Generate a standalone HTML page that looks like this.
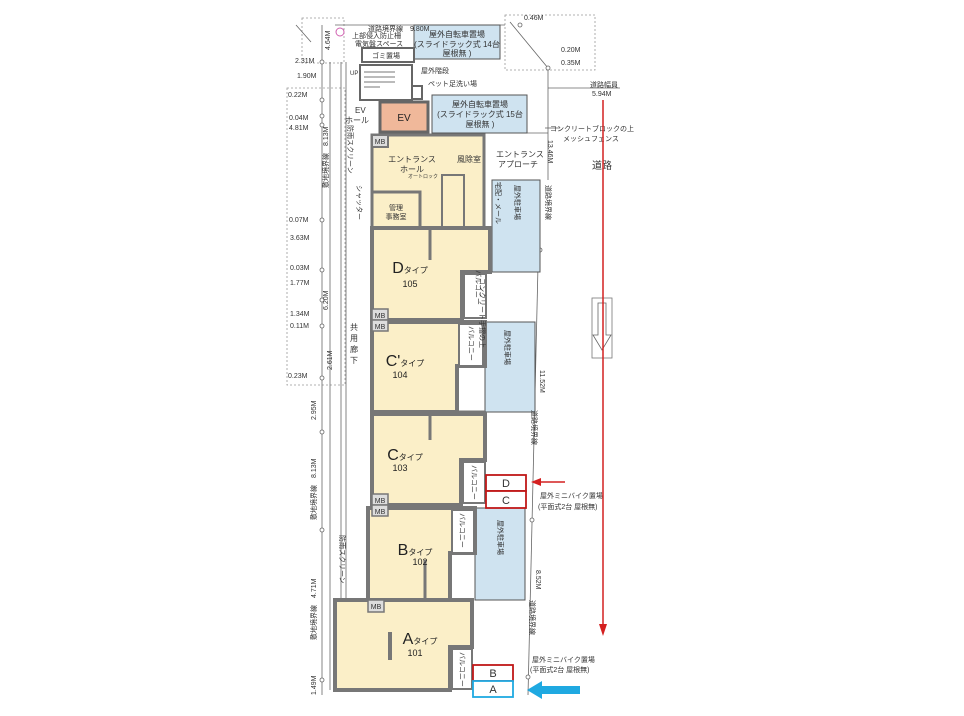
<!DOCTYPE html>
<html><head><meta charset="utf-8"><style>
html,body{margin:0;padding:0;background:#fff;}
svg{display:block;font-family:"Liberation Sans","Noto Sans CJK JP",sans-serif;}
</style></head><body>
<svg width="964" height="716" viewBox="0 0 964 716" xmlns="http://www.w3.org/2000/svg">
<g fill="none" stroke="#999" stroke-width="0.8" stroke-dasharray="2,2">
<rect x="287" y="88" width="58" height="297"/>
<rect x="302" y="18" width="42" height="45"/>
<rect x="505" y="15" width="90" height="55"/>
</g>
<g stroke="#666" stroke-width="0.8" fill="none">
<line x1="296" y1="25" x2="311" y2="42"/>
<line x1="322" y1="25" x2="322" y2="695"/>
<line x1="330" y1="62" x2="330" y2="690"/>
<line x1="341" y1="62" x2="341" y2="600"/>
<line x1="346" y1="62" x2="346" y2="600"/>
<line x1="335" y1="25" x2="505" y2="25"/>
<line x1="510" y1="22" x2="548" y2="68"/>
<line x1="548" y1="68" x2="548" y2="180"/>
<line x1="540" y1="180" x2="528" y2="695"/>
<line x1="548" y1="88" x2="620" y2="88"/>
<line x1="480" y1="133" x2="548" y2="133"/>
<line x1="545" y1="128" x2="560" y2="128"/>
</g>
<g fill="#fff" stroke="#666" stroke-width="0.8">
<circle cx="322" cy="62" r="2"/><circle cx="322" cy="100" r="2"/><circle cx="322" cy="116" r="2"/><circle cx="322" cy="125" r="2"/>
<circle cx="322" cy="220" r="2"/><circle cx="322" cy="270" r="2"/><circle cx="322" cy="300" r="2"/><circle cx="322" cy="326" r="2"/>
<circle cx="322" cy="378" r="2"/><circle cx="322" cy="432" r="2"/><circle cx="322" cy="530" r="2"/><circle cx="322" cy="680" r="2"/>
<circle cx="548" cy="68" r="2"/><circle cx="520" cy="25" r="2"/><circle cx="540" cy="250" r="2"/><circle cx="532" cy="520" r="2"/><circle cx="528" cy="677" r="2"/>
</g>
<circle cx="340" cy="32" r="4" fill="none" stroke="#d060b0"/>
<g fill="#cfe3f0" stroke="#555" stroke-width="1">
<rect x="414" y="25" width="86" height="34"/>
<rect x="432" y="95" width="95" height="38"/>
<rect x="492" y="180" width="48" height="92"/>
<rect x="485" y="322" width="50" height="90"/>
<rect x="475" y="508" width="50" height="92"/>
</g>
<g fill="#fff" stroke="#666" stroke-width="2">
<rect x="362" y="48" width="52" height="14"/>
<rect x="360" y="65" width="52" height="35"/>
<rect x="412" y="86" width="10" height="13"/>
</g>
<g stroke="#777" stroke-width="1">
<line x1="364" y1="72" x2="395" y2="72"/><line x1="364" y1="77" x2="395" y2="77"/><line x1="364" y1="82" x2="395" y2="82"/><line x1="364" y1="87" x2="380" y2="87"/>
</g>
<rect x="380" y="102" width="48" height="30" fill="#f0b89a" stroke="#666" stroke-width="3"/>
<rect x="372" y="135" width="112" height="93" fill="#fbefc8" stroke="#777" stroke-width="3"/>
<rect x="372" y="192" width="48" height="36" fill="#fbefc8" stroke="#777" stroke-width="3"/>
<rect x="442" y="175" width="22" height="53" fill="#fbefc8" stroke="#777" stroke-width="2"/>
<rect x="372" y="135" width="16" height="12" fill="#ddd" stroke="#777" stroke-width="2"/>
<g fill="#fbefc8" stroke="#777" stroke-width="4">
<path d="M372 228H490V272H462V320H372Z"/>
<path d="M372 322H485V366H457V412H372Z"/>
<path d="M372 414H485V460H461V505H372Z"/>
<path d="M368 508H475V553H450V600H368Z"/>
<path d="M335 600H472V647H450V690H335Z"/>
</g>
<g fill="#fff" stroke="#777" stroke-width="2">
<rect x="464" y="274" width="22" height="44"/>
<rect x="459" y="324" width="24" height="42"/>
<rect x="463" y="462" width="22" height="41"/>
<rect x="452" y="510" width="22" height="43"/>
<rect x="452" y="649" width="20" height="40"/>
</g>
<g stroke="#777" stroke-width="3">
<line x1="430" y1="230" x2="430" y2="260"/>
<line x1="430" y1="412" x2="430" y2="440"/>
<line x1="372" y1="412" x2="485" y2="412"/>
<line x1="425" y1="560" x2="425" y2="598"/>
</g>
<rect x="388" y="632" width="4" height="28" fill="#777"/>
<g fill="#ddd" stroke="#777" stroke-width="1.5">
<rect x="372" y="309" width="16" height="11"/><rect x="372" y="320" width="16" height="11"/>
<rect x="372" y="494" width="16" height="11"/><rect x="372" y="505" width="16" height="11"/>
<rect x="368" y="600" width="16" height="12"/>
</g>
<g font-size="7" fill="#333" text-anchor="middle">
<text x="380" y="318">MB</text><text x="380" y="329">MB</text><text x="380" y="503">MB</text><text x="380" y="514">MB</text><text x="376" y="609">MB</text><text x="380" y="144">MB</text>
</g>
<g fill="#222" text-anchor="middle">
<text x="410" y="273" font-size="16">D<tspan font-size="8">タイプ</tspan></text><text x="410" y="287" font-size="9">105</text>
<text x="405" y="366" font-size="16">C'<tspan font-size="8">タイプ</tspan></text><text x="400" y="378" font-size="9">104</text>
<text x="405" y="460" font-size="16">C<tspan font-size="8">タイプ</tspan></text><text x="400" y="471" font-size="9">103</text>
<text x="415" y="555" font-size="16">B<tspan font-size="8">タイプ</tspan></text><text x="420" y="565" font-size="9">102</text>
<text x="420" y="644" font-size="16">A<tspan font-size="8">タイプ</tspan></text><text x="415" y="656" font-size="9">101</text>
<text x="404" y="121" font-size="10">EV</text>
</g>
<g font-size="8" fill="#333">
<text x="412" y="162" text-anchor="middle">エントランス</text><text x="412" y="172" text-anchor="middle">ホール</text>
<text x="457" y="162">風除室</text>
<text x="408" y="178" font-size="5">オートロック</text>
<text x="396" y="210" font-size="7" text-anchor="middle">管理</text><text x="396" y="219" font-size="7" text-anchor="middle">事務室</text>
<text x="496" y="157">エントランス</text><text x="498" y="167">アプローチ</text>
<text x="457" y="37" text-anchor="middle">屋外自転車置場</text><text x="457" y="47" text-anchor="middle">(スライドラック式 14台</text><text x="457" y="56" text-anchor="middle">屋根無 )</text>
<text x="480" y="107" text-anchor="middle">屋外自転車置場</text><text x="480" y="117" text-anchor="middle">(スライドラック式 15台</text><text x="480" y="127" text-anchor="middle">屋根無 )</text>
<text x="368" y="31" font-size="7">道路境界線　9.80M</text>
<text x="352" y="38" font-size="7">上部侵入防止柵</text><text x="355" y="46" font-size="7">電気盤スペース</text>
<text x="372" y="58" font-size="7">ゴミ置場</text>
<text x="421" y="73" font-size="7">屋外階段</text><text x="428" y="86" font-size="7">ペット足洗い場</text>
<text x="350" y="75" font-size="6">UP</text>
<text x="355" y="113">EV</text><text x="345" y="123">ホール</text>
<text x="550" y="131" font-size="7">コンクリートブロックの上</text><text x="563" y="141" font-size="7">メッシュフェンス</text>
<text x="592" y="169" font-size="10">道路</text>
<text x="590" y="87" font-size="7">道路幅員</text><text x="592" y="96" font-size="7">5.94M</text>
<text x="524" y="20" font-size="7">0.46M</text><text x="561" y="52" font-size="7">0.20M</text><text x="561" y="65" font-size="7">0.35M</text>
<text x="295" y="63" font-size="7">2.31M</text><text x="297" y="78" font-size="7">1.90M</text><text x="288" y="97" font-size="7">0.22M</text>
<text x="289" y="120" font-size="7">0.04M</text><text x="289" y="130" font-size="7">4.81M</text><text x="289" y="222" font-size="7">0.07M</text>
<text x="290" y="240" font-size="7">3.63M</text><text x="290" y="270" font-size="7">0.03M</text><text x="290" y="285" font-size="7">1.77M</text>
<text x="290" y="316" font-size="7">1.34M</text><text x="290" y="328" font-size="7">0.11M</text><text x="288" y="378" font-size="7">0.23M</text>
<text x="532" y="662" font-size="7">屋外ミニバイク置場</text><text x="530" y="672" font-size="7">(平面式2台 屋根無)</text>
<text x="540" y="498" font-size="7">屋外ミニバイク置場</text><text x="538" y="509" font-size="7">(平面式2台 屋根無)</text>
<text x="350" y="330" font-size="8">共</text><text x="350" y="341" font-size="8">用</text><text x="350" y="352" font-size="8">廊</text><text x="350" y="363" font-size="8">下</text>
</g>
<g font-size="7" fill="#333">
<text transform="translate(496,182) rotate(90)">宅配・メール</text>
<text transform="translate(476,270) rotate(90)">バルコニー</text>
<text transform="translate(469,326) rotate(90)">バルコニー</text>
<text transform="translate(472,465) rotate(90)">バルコニー</text>
<text transform="translate(460,513) rotate(90)">バルコニー</text>
<text transform="translate(460,652) rotate(90)">バルコニー</text>
<text transform="translate(480,278) rotate(90)">コンクリート手摺の上</text>
<text transform="translate(546,185) rotate(90)">道路境界線</text>
<text transform="translate(548,140) rotate(90)">13.46M</text>
<text transform="translate(540,370) rotate(90)">11.52M</text>
<text transform="translate(532,410) rotate(90)">道路境界線</text>
<text transform="translate(536,570) rotate(90)">8.52M</text>
<text transform="translate(530,600) rotate(90)">道路境界線</text>
<text transform="translate(515,185) rotate(90)">屋外駐車場</text>
<text transform="translate(505,330) rotate(90)">屋外駐車場</text>
<text transform="translate(498,520) rotate(90)">屋外駐車場</text>
<text transform="translate(348,125) rotate(90)">防雨スクリーン</text>
<text transform="translate(340,535) rotate(90)">防雨スクリーン</text>
<text transform="translate(357,185) rotate(90)">シャッター</text>
<text transform="translate(316,420) rotate(-90)">2.95M</text>
<text transform="translate(316,520) rotate(-90)">敷地境界線　8.13M</text>
<text transform="translate(316,640) rotate(-90)">敷地境界線　4.71M</text>
<text transform="translate(316,695) rotate(-90)">1.49M</text>
<text transform="translate(328,188) rotate(-90)">敷地境界線　8.13M</text>
<text transform="translate(328,310) rotate(-90)">6.20M</text>
<text transform="translate(332,370) rotate(-90)">2.61M</text>
<text transform="translate(330,50) rotate(-90)">4.64M</text>
</g>
<rect x="592" y="298" width="20" height="60" fill="#fff" stroke="#777" stroke-width="0.8"/>
<path d="M598 303H606V335H611L602 350L593 335H598Z" fill="#fff" stroke="#666" stroke-width="0.8"/>
<line x1="603" y1="100" x2="603" y2="625" stroke="#d42020" stroke-width="1.5"/>
<path d="M599 624L607 624L603 636Z" fill="#d42020"/>
<line x1="540" y1="482" x2="565" y2="482" stroke="#d42020" stroke-width="1.5"/>
<path d="M531 482L541 478L541 486Z" fill="#d42020"/>
<path d="M542 686H580V694H542V699L527 690L542 681Z" fill="#1fa9e1"/>
<g font-size="11" fill="#333" text-anchor="middle">
<rect x="486" y="475" width="40" height="16" fill="#fff" stroke="#c01818" stroke-width="1.8"/>
<rect x="486" y="491" width="40" height="17" fill="#fff" stroke="#c01818" stroke-width="1.8"/>
<rect x="473" y="665" width="40" height="16" fill="#fff" stroke="#c01818" stroke-width="1.8"/>
<rect x="473" y="681" width="40" height="16" fill="#fff" stroke="#1fa9e1" stroke-width="1.8"/>
<text x="506" y="487">D</text><text x="506" y="504">C</text><text x="493" y="677">B</text><text x="493" y="693">A</text>
</g>
</svg>
</body></html>
